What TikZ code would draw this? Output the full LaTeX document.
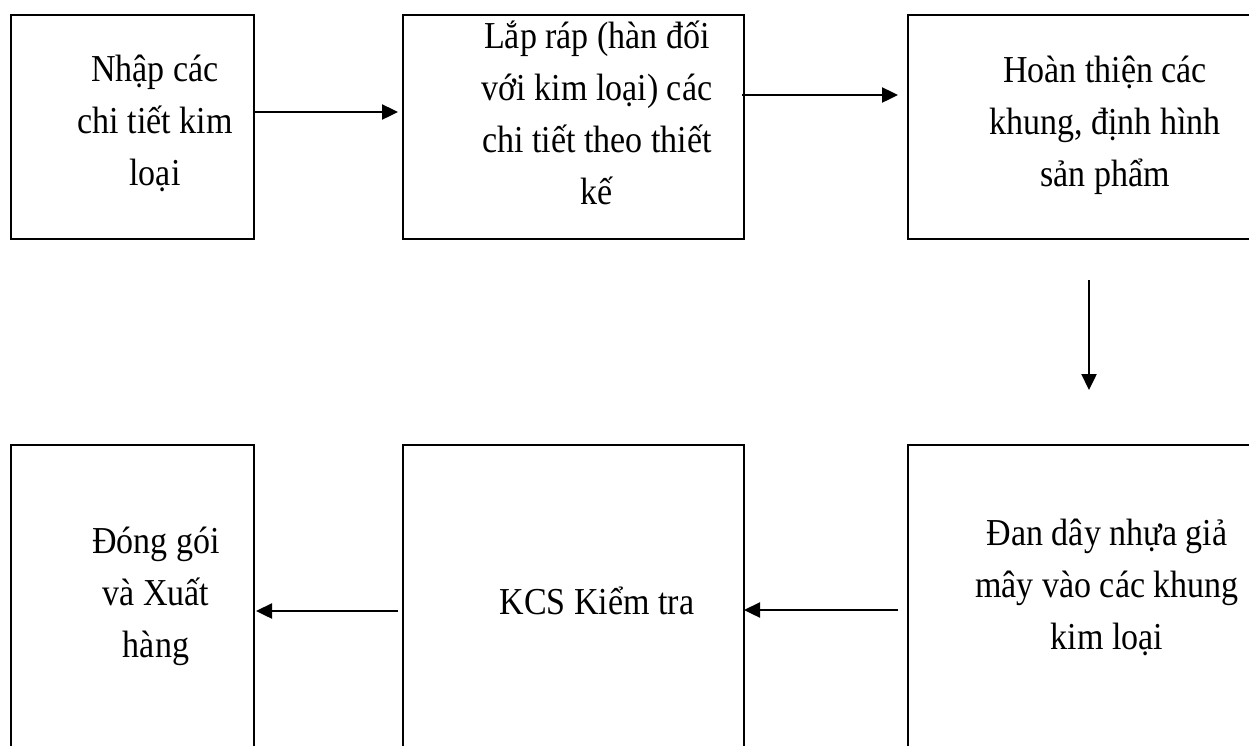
\documentclass[tikz,border=0pt]{standalone}
\usepackage{fontspec}
\usepackage{graphicx}
\setmainfont{Liberation Serif}
\usetikzlibrary{arrows.meta}
% fixed line height so that every text line sits on a 52pt grid
\newcommand\lnstrut{\rule[-12pt]{0pt}{52pt}}
% lettering is drawn slightly elongated
\newcommand\tall[1]{\lnstrut\scalebox{1}[1.12]{#1}}
\begin{document}
\begin{tikzpicture}[x=1pt,y=-1pt,
  stagebox/.style={draw,line width=2.4pt,rectangle,inner sep=0pt,outer sep=0pt},
  stagetext/.style={font=\fontsize{34}{52}\selectfont,align=center,inner sep=0pt,anchor=north},
  flow/.style={line width=2.4pt,-{Triangle[length=16pt,width=15pt]}}]
\useasboundingbox (0,0) rectangle (1249,745);
\clip (0,0) rectangle (1249,745);

% process boxes (bottom row and right column run past the page edge)
\node[stagebox,minimum width=243,minimum height=224] (B1) at (132.5,127) {};
\node[stagebox,minimum width=341,minimum height=224] (B2) at (573.5,127) {};
\node[stagebox,minimum width=362,minimum height=224] (B3) at (1089,127) {};
\node[stagebox,minimum width=243,minimum height=355] (B4) at (132.5,622.5) {};
\node[stagebox,minimum width=341,minimum height=355] (B5) at (573.5,622.5) {};
\node[stagebox,minimum width=362,minimum height=355] (B6) at (1089,622.5) {};

% box captions
\node[stagetext] (T1) at (155,41) {\tall{Nhập các}\\\tall{chi tiết kim}\\\tall{loại}};
\node[stagetext] (T2) at (597,8) {\tall{Lắp ráp (hàn đối}\\\tall{với kim loại) các}\\\tall{chi tiết theo thiết}\\\tall{kế}};
\node[stagetext] (T3) at (1105,42) {\tall{Hoàn thiện các}\\\tall{khung, định hình}\\\tall{sản phẩm}};
\node[stagetext] (T4) at (156,513) {\tall{Đóng gói}\\\tall{và Xuất}\\\tall{hàng}};
\node[stagetext] (T5) at (597,574) {\tall{KCS Kiểm tra}};
\node[stagetext] (T6) at (1107,505) {\tall{Đan dây nhựa giả}\\\tall{mây vào các khung}\\\tall{kim loại}};

% flow arrows
\draw[flow,shorten >=5pt] ([yshift=15pt]B1.east) -- ([yshift=15pt]B2.west);
\draw[flow,shorten <=-2pt,shorten >=10pt] ([yshift=32pt]B2.east) -- ([yshift=32pt]B3.west);
\draw[flow,shorten <=41pt,shorten >=55pt] (B3.south) -- (B6.north);
\draw[flow,shorten <=10pt] ([yshift=12.5pt]B6.west) -- ([yshift=12.5pt]B5.east);
\draw[flow,shorten <=5pt,shorten >=2pt] ([yshift=11.5pt]B5.west) -- ([yshift=11.5pt]B4.east);
\end{tikzpicture}
\end{document}
